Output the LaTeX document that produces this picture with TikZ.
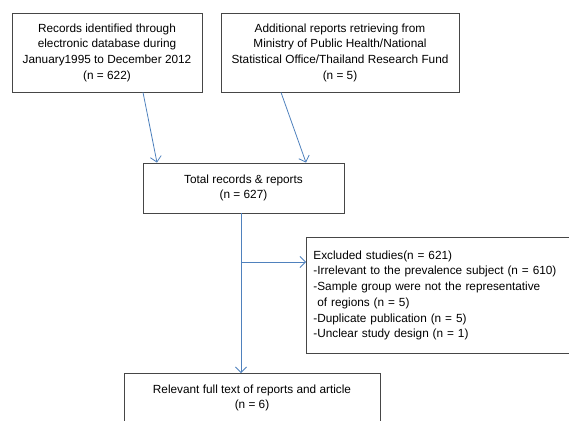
\documentclass[tikz,border=0pt]{standalone}
\usepackage{fontspec}
\setmainfont{Liberation Sans}
\usetikzlibrary{arrows.meta}
\definecolor{arrblue}{RGB}{79,129,189}
\definecolor{boxgray}{RGB}{70,70,70}
\tikzset{
  box/.style={draw=boxgray, line width=0.8pt, align=center, inner sep=0pt,
    font=\fontsize{11.8pt}{15.7pt}\selectfont, text=black},
  arr/.style={draw=arrblue, line width=0.8pt, -{Straight Barb[length=5.5pt,width=11pt]}},
}
\begin{document}
\begin{tikzpicture}[x=1pt,y=-1pt]
\useasboundingbox (0,0) rectangle (569,420);
\node[box, minimum width=190pt, minimum height=79pt] (b1) at (107,52.5)
  {Records identified through\\electronic database during\\January1995 to December 2012\\(n = 622)};
\node[box, minimum width=238pt, minimum height=79pt] (b2) at (340,52.5)
  {Additional reports retrieving from\\Ministry of Public Health/National\\Statistical Office/Thailand Research Fund\\(n = 5)};
\node[box, minimum width=201pt, minimum height=50pt] (b3) at (243.5,188)
  {Total records \& reports\\(n = 627)};
\node[box, minimum width=294pt, minimum height=116pt, align=left, text width=280pt, inner xsep=7pt, anchor=north west] (b4) at (306,237)
  {Excluded studies(n = 621)\\-Irrelevant to the prevalence subject (n = 610)\\-Sample group were not the representative\\\ of regions (n = 5)\\-Duplicate publication (n = 5)\\-Unclear study design (n = 1)};
\node[box, minimum width=256pt, minimum height=49pt, anchor=north] (b5) at (252,373)
  {Relevant full text of reports and article\\(n = 6)};
\draw[arr] ([xshift=36pt]b1.south) -- ([xshift=-86.5pt]b3.north);
\draw[arr] ([xshift=-59pt]b2.south) -- ([xshift=62.5pt]b3.north);
\coordinate (t) at ([xshift=-2.5pt]b3.south);
\coordinate (br) at (241,262);
\draw[arr] (t) -- (t |- b5.north);
\draw[arr] (br) -- (br -| b4.west);
\end{tikzpicture}
\end{document}
